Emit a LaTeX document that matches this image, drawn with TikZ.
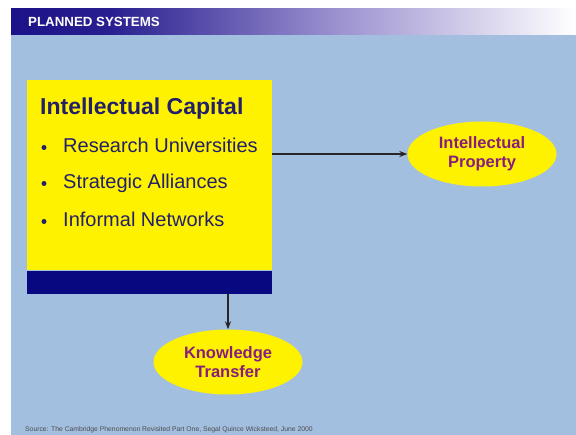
\documentclass[tikz,border=0pt]{standalone}
\usepackage{fontspec}
\setmainfont{Liberation Sans}
\usetikzlibrary{shapes.geometric,arrows.meta}

\definecolor{slidebg}{RGB}{163,191,224}
\definecolor{boxyellow}{RGB}{255,242,0}
\definecolor{bandnavy}{RGB}{8,8,128}
\definecolor{textnavy}{RGB}{34,32,106}
\definecolor{ovaltext}{RGB}{136,30,124}
\definecolor{hdrdark}{RGB}{28,18,137}
\definecolor{hdrmid}{RGB}{152,142,206}

\tikzset{
  oval/.style={ellipse, fill=boxyellow, minimum width=149pt, minimum height=65pt,
    inner sep=0pt, align=center, text=ovaltext,
    font=\bfseries\fontsize{16.5}{19}\selectfont},
  item/.style={anchor=base west, inner sep=0pt, text=textnavy, font=\fontsize{20}{22}\selectfont},
  conn/.style={draw=black!85, line width=1.1pt, -{Stealth[length=8pt,width=6pt]}},
}

\begin{document}
\begin{tikzpicture}[x=1pt, y=-1pt]
    \useasboundingbox (0,0) rectangle (576,435);
    % slide background and title bar
    \fill[slidebg] (11,35) rectangle (576,435);
    \shade[left color=hdrdark, right color=hdrdark!90!hdrmid] (11,9) rectangle (110,35);
    \shade[left color=hdrdark!90!hdrmid, right color=hdrmid] (110,9) rectangle (330,35);
    \shade[left color=hdrmid, right color=white] (330,9) rectangle (576,35);
    \node[anchor=west, inner sep=0pt, text=white, font=\bfseries\fontsize{13.3}{15}\selectfont]
        (heading) at (28,22) {PLANNED SYSTEMS};

    % yellow box with navy band underneath
    \node[fill=boxyellow, minimum width=245pt, minimum height=190pt, inner sep=0pt,
        anchor=north west] (capital) at (27,80) {};
    \node[fill=bandnavy, minimum width=245pt, minimum height=23pt, inner sep=0pt,
        anchor=north west] (band) at (capital.south west) {};
    \node[anchor=base west, inner sep=0pt, text=textnavy, font=\bfseries\fontsize{23}{26}\selectfont]
        (title) at (40,115) {Intellectual Capital};
    % bullet list
    \foreach \y/\txt [count=\i] in {153/Research Universities,189/Strategic Alliances,227/Informal Networks} {
        \fill[textnavy] (44,\y-5.5) circle (2.5pt);
        \node[item] (item\i) at (63,\y) {\txt};
    }

    % outcomes
    \node[oval] (prop) at (482,154) {Intellectual\\Property};
    \node[oval] (know) at (228,362) {Knowledge\\Transfer};
    \draw[conn] (prop.west -| capital.east) -- (prop.west);
    \draw[conn] (know |- band.south) -- (know.north);

    % footnote
    \node[anchor=base west, inner sep=0pt, text=black!70, font=\fontsize{6.8}{7}\selectfont]
        (source) at (25,432) {Source: The Cambridge Phenomenon Revisited Part One, Segal Quince Wicksteed, June 2000};
\end{tikzpicture}
\end{document}
